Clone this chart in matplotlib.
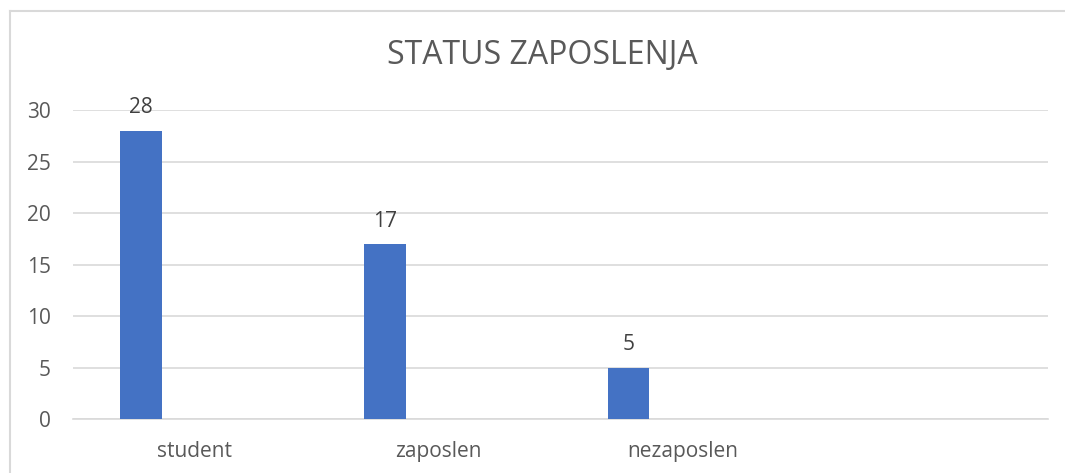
import matplotlib
matplotlib.use("Agg")
import matplotlib.pyplot as plt
from matplotlib.lines import Line2D

# Chart data
categories = ["student", "zaposlen", "nezaposlen", ""]
values = [28, 17, 5]
title = "STATUS ZAPOSLENJA"
y_ticks = [0, 5, 10, 15, 20, 25, 30]

BAR_COLOR = "#4472C4"
GRID_COLOR = "#D9D9D9"
TEXT_COLOR = "#595959"
LABEL_COLOR = "#404040"

plt.rcParams["font.family"] = ["Open Sans", "DejaVu Sans"]

W, H = 1065, 473
fig = plt.figure(figsize=(W / 100, H / 100), dpi=100)
fig.patch.set_facecolor("white")

# outer chart border (Excel style): only the top and left edges fall inside the image
top_y = 1 - 11.5 / H
left_x = 9.5 / W
fig.add_artist(Line2D([left_x, 1.0], [top_y, top_y], transform=fig.transFigure,
                      color=GRID_COLOR, linewidth=1.5))
fig.add_artist(Line2D([left_x, left_x], [0.0, top_y], transform=fig.transFigure,
                      color=GRID_COLOR, linewidth=1.5))

ax = fig.add_axes([73 / W, (H - 419) / H, (1048 - 73) / W, (419 - 110) / H])

x = list(range(len(categories)))
bar_x = [i - 0.221 for i in x[:len(values)]]
bars = ax.bar(bar_x, values, width=0.172, color=BAR_COLOR, zorder=3)

for b, v in zip(bars, values):
    ax.annotate(str(v), (b.get_x() + b.get_width() / 2, v),
                xytext=(0, 12.5), textcoords="offset points",
                ha="center", va="baseline", fontsize=15, color=LABEL_COLOR)

ax.set_xlim(-0.5, len(categories) - 0.5)
ax.set_ylim(0, 30)
ax.set_yticks(y_ticks)
ax.set_xticks(x)
ax.set_xticklabels(categories)
ax.yaxis.grid(True, color=GRID_COLOR, linewidth=1.2, zorder=0)
ax.set_axisbelow(True)

for s in ["top", "right", "left"]:
    ax.spines[s].set_visible(False)
ax.spines["bottom"].set_color(GRID_COLOR)
ax.spines["bottom"].set_linewidth(1.2)

ax.tick_params(axis="both", length=0, colors=TEXT_COLOR, labelsize=15)
ax.tick_params(axis="y", pad=16)
ax.tick_params(axis="x", pad=16)

fig.text(542.5 / W, 1 - 56 / H, title, ha="center", va="center",
         fontsize=23, color=TEXT_COLOR)

fig.savefig("out.png", dpi=100)
